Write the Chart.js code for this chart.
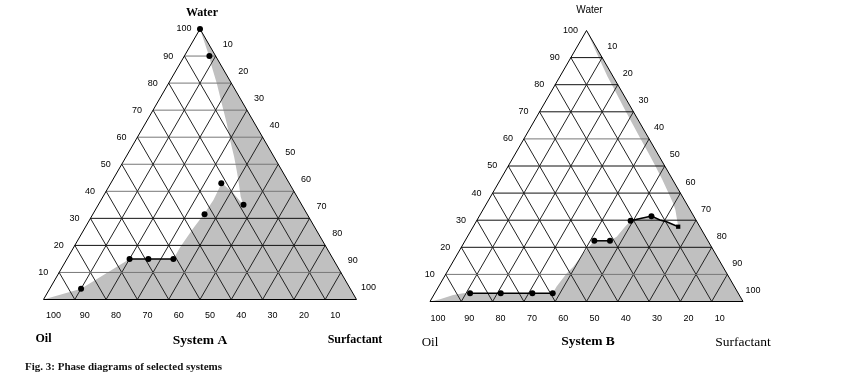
<!DOCTYPE html>
<html><head><meta charset="utf-8">
<script src="https://cdn.jsdelivr.net/npm/chart.js@4.4.1/dist/chart.umd.min.js"></script>
<style>
html,body{margin:0;padding:0;background:#fff;}
#wrap{position:relative;width:850px;height:380px;overflow:hidden;background:#fff;}
canvas{position:absolute;left:0;top:0;}
#cap{position:absolute;left:25px;top:360px;font:bold 11px "Liberation Serif",serif;color:#111;white-space:nowrap;}
</style></head><body>
<div id="wrap">
<canvas id="cA" width="850" height="380"></canvas>
<canvas id="cB" width="850" height="380"></canvas>
<div id="cap">Fig. 3: Phase diagrams of selected systems</div>
</div>
<script>
// ---- data (ternary %: W = water, S = surfactant, oil = 100 - W - S) ----
const gridTicks = [10, 20, 30, 40, 50, 60, 70, 80, 90];
const axisTicks = [10, 20, 30, 40, 50, 60, 70, 80, 90, 100];

// System A: shaded (grey) region boundary
const regionA_W = [0, 4, 15, 15, 15, 19.5, 26.3, 31.6, 36.8, 41.7, 43.2, 39.3, 34.9, 38, 41.7, 46.6, 52.8, 59, 65.1, 72.5, 79.9, 86.1, 90, 100, 0, 0];
const regionA_S = [0, 10, 20, 26, 34, 34, 34.7, 35.5, 35.9, 35.5, 35.3, 41, 46.4, 44, 41.7, 38.6, 34.5, 30.1, 26, 20.7, 15.4, 10.7, 7.9, 0, 100, 0];
// System A: measured points
const dotsA_W = [100, 90, 43, 35, 31.5, 15, 15, 15, 4];
const dotsA_S = [0, 8, 35.3, 46.4, 35.7, 20, 26, 34, 10];
// System A: connecting line
const lineA_W = [15, 15, 15];
const lineA_S = [20, 26, 34];

// System B: shaded region boundary
const regionB_W = [0, 0.8, 2.4, 3, 3, 3, 3, 3, 5.5, 10.4, 12.8, 17.8, 22.4, 22.4, 23.9, 27.6, 29.8, 30.7, 31.5, 30.1, 29.4, 27.6, 33.8, 36.2, 40, 45, 50, 55, 60, 70, 78, 83, 90, 100, 0, 0];
const regionB_S = [0, 2.8, 6.2, 9.1, 11.3, 21.1, 31.2, 37.7, 37.7, 38.5, 39.4, 40.1, 41.3, 46.3, 47.7, 48.5, 49.2, 50.7, 55, 58.4, 60.9, 65.5, 61.5, 59.6, 56.2, 51.7, 47, 42.2, 37.3, 27.6, 20, 15.2, 8.9, 0, 100, 0];
// System B: measured points
const dotsB_W = [3, 3, 3, 3, 22.4, 22.4, 29.8, 31.5, 27.6];
const dotsB_S = [11.3, 21.1, 31.2, 37.7, 41.3, 46.3, 49.2, 55, 65.5];
// System B: connecting lines
const lineB1_W = [3, 3, 3, 3];
const lineB1_S = [11.3, 21.1, 31.2, 37.7];
const lineB2_W = [22.4, 22.4];
const lineB2_S = [41.3, 46.3];
const lineB3_W = [29.8, 31.5, 30.1, 29.4, 27.6];
const lineB3_S = [49.2, 55, 58.4, 60.9, 65.5];

// ---- helpers ----
const H = Math.sqrt(3) / 2;
function tern(W, S) { return { x: S + W / 2, y: W * H }; }
function pts(Ws, Ss) { return Ws.map((w, i) => tern(w, Ss[i])); }

const ternLabels = {
  id: 'ternLabels',
  afterDatasetsDraw(chart, args, o) {
    const { ctx, scales: { x, y } } = chart;
    const P = (W, S) => { const c = tern(W, S); return [x.getPixelForValue(c.x), y.getPixelForValue(c.y)]; };
    ctx.save();
    ctx.fillStyle = '#000';
    ctx.textAlign = 'center';
    ctx.textBaseline = 'middle';
    ctx.font = o.tickFont;
    axisTicks.forEach(v => {
      let p = P(v, 0);
      ctx.fillText(String(v), p[0] + o.left[0], p[1] + o.left[1]);
      p = P(100 - v, v);
      ctx.fillText(String(v), p[0] + o.right[0], p[1] + o.right[1]);
      p = P(0, 100 - v);
      ctx.fillText(String(v), p[0] + o.bottom[0], p[1] + o.bottom[1]);
    });
    o.titles.forEach(t => {
      ctx.font = t.font;
      const p = P(t.W, t.S);
      ctx.fillText(t.text, p[0] + t.dx, p[1] + t.dy);
    });
    ctx.restore();
  }
};

function lineDs(data, color, width, order) {
  return { data, showLine: true, fill: false, borderColor: color, borderWidth: width, pointRadius: 0, tension: 0, clip: false, order };
}

function makeChart(id, cfg) {
  const ds = [];
  ds.push({ data: pts(cfg.regionW, cfg.regionS), showLine: true, fill: 'shape', backgroundColor: '#c0c0c0', borderColor: 'rgba(0,0,0,0)', borderWidth: 0, pointRadius: 0, tension: 0, clip: false, order: 10 });
  gridTicks.forEach((k, i) => {
    ds.push(lineDs(pts([k, k], [0, 100 - k]), cfg.hColors[i], 1, 5));
    ds.push(lineDs(pts([100 - k, 0], [k, k]), '#222', 1, 5));
    ds.push(lineDs(pts([100 - k, 0], [0, 100 - k]), '#222', 1, 5));
  });
  ds.push(lineDs(pts([0, 100, 0, 0], [0, 0, 100, 0]), '#000', 1, 4));
  cfg.lines.forEach(l => ds.push(lineDs(pts(l[0], l[1]), '#000', 1.5, 2)));
  ds.push({ data: pts(cfg.dotsW, cfg.dotsS), showLine: false, pointRadius: 3, pointBackgroundColor: '#000', pointBorderColor: '#000', pointBorderWidth: 0, pointStyle: cfg.pointStyles, clip: false, order: 0 });
  return new Chart(document.getElementById(id), {
    type: 'scatter',
    data: { datasets: ds },
    options: {
      responsive: false, animation: false, devicePixelRatio: 1, events: [],
      layout: { padding: cfg.pad },
      scales: {
        x: { type: 'linear', min: 0, max: 100, display: false },
        y: { type: 'linear', min: 0, max: 100 * H, display: false }
      },
      plugins: { legend: { display: false }, tooltip: { enabled: false }, ternLabels: cfg.labels }
    },
    plugins: [ternLabels]
  });
}

const tickFont = '9px "Liberation Sans", Arial, sans-serif';
makeChart('cA', {
  regionW: regionA_W, regionS: regionA_S, dotsW: dotsA_W, dotsS: dotsA_S,
  lines: [[lineA_W, lineA_S]],
  pointStyles: 'circle',
  hColors: ['#777', '#111', '#111', '#777', '#777', '#777', '#777', '#777', '#777'],
  pad: { left: 43.5, right: 850 - 356.5, top: 29, bottom: 380 - 299.5 },
  labels: {
    tickFont, left: [-16, 0], right: [12, -12], bottom: [10, 16],
    titles: [
      { text: 'Water', W: 100, S: 0, dx: 2, dy: -16, font: 'bold 12px "Liberation Serif", serif' },
      { text: 'Oil', W: 0, S: 0, dx: 0, dy: 39, font: 'bold 12px "Liberation Serif", serif' },
      { text: 'System A', W: 0, S: 50, dx: 0, dy: 41, font: 'bold 13.5px "Liberation Serif", serif' },
      { text: 'Surfactant', W: 0, S: 100, dx: -1.5, dy: 40, font: 'bold 12px "Liberation Serif", serif' }
    ]
  }
});
makeChart('cB', {
  regionW: regionB_W, regionS: regionB_S, dotsW: dotsB_W, dotsS: dotsB_S,
  lines: [[lineB1_W, lineB1_S], [lineB2_W, lineB2_S], [lineB3_W, lineB3_S]],
  pointStyles: ['circle', 'circle', 'circle', 'circle', 'circle', 'circle', 'circle', 'circle', 'rect'],
  hColors: ['#777', '#111', '#111', '#111', '#111', '#777', '#111', '#111', '#111'],
  pad: { left: 430, right: 850 - 743, top: 30.5, bottom: 380 - 301.5 },
  labels: {
    tickFont, left: [-16, 0], right: [10, -11], bottom: [8, 17],
    titles: [
      { text: 'Water', W: 100, S: 0, dx: 3, dy: -20, font: '10px "Liberation Sans", Arial, sans-serif' },
      { text: 'Oil', W: 0, S: 0, dx: 0, dy: 41, font: '13px "Liberation Serif", serif' },
      { text: 'System B', W: 0, S: 50, dx: 1.5, dy: 40.5, font: 'bold 13.5px "Liberation Serif", serif' },
      { text: 'Surfactant', W: 0, S: 100, dx: 0, dy: 41, font: '13.5px "Liberation Serif", serif' }
    ]
  }
});
</script>
</body></html>
